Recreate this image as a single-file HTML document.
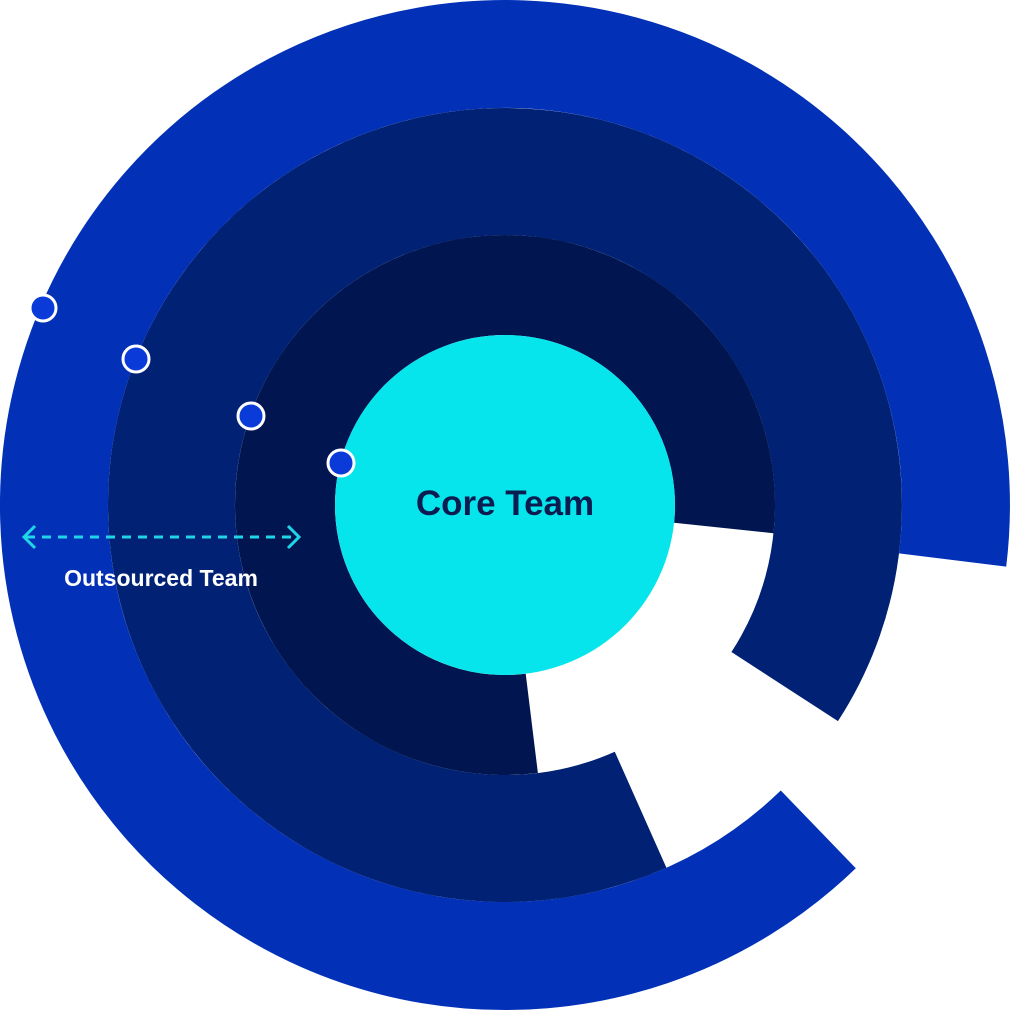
<!DOCTYPE html>
<html><head><meta charset="utf-8"><style>
html,body{margin:0;padding:0;background:#fff;}
svg{display:block;}
</style></head><body>
<svg width="1011" height="1011" viewBox="0 0 1011 1011" xmlns="http://www.w3.org/2000/svg">
<rect width="1011" height="1011" fill="#fff"/>
<g fill="none" stroke-linecap="butt">
<path d="M818.3 829.4 A451 451 0 1 1 952.6 560.0" stroke="#0231B7" stroke-width="108"/>
<path d="M640.6 809.7 A333.5 333.5 0 1 1 784.7 686.6" stroke="#012175" stroke-width="127"/>
<path d="M531.8 723.4 A220 220 0 1 1 723.8 528.0" stroke="#011650" stroke-width="100"/>
</g>
<circle cx="505" cy="505" r="170" fill="#07E5EC"/>
<text x="505" y="515" text-anchor="middle" font-family="Liberation Sans, sans-serif" font-weight="bold" font-size="35" fill="#0B1C50">Core Team</text>
<g fill="#0A3AD8" stroke="#fff" stroke-width="3">
<circle cx="43" cy="308" r="13"/>
<circle cx="136" cy="359" r="13"/>
<circle cx="251" cy="416" r="13"/>
<circle cx="341" cy="463" r="13"/>
</g>
<g stroke="#1FD5E8" stroke-width="3" fill="none">
<line x1="26" y1="537" x2="296" y2="537" stroke-dasharray="9 7"/>
<polyline points="35,526 24,537 35,548"/>
<polyline points="288,526 299,537 288,548"/>
</g>
<text x="161" y="586" text-anchor="middle" font-family="Liberation Sans, sans-serif" font-weight="bold" font-size="23" fill="#fff">Outsourced Team</text>
</svg>
</body></html>
